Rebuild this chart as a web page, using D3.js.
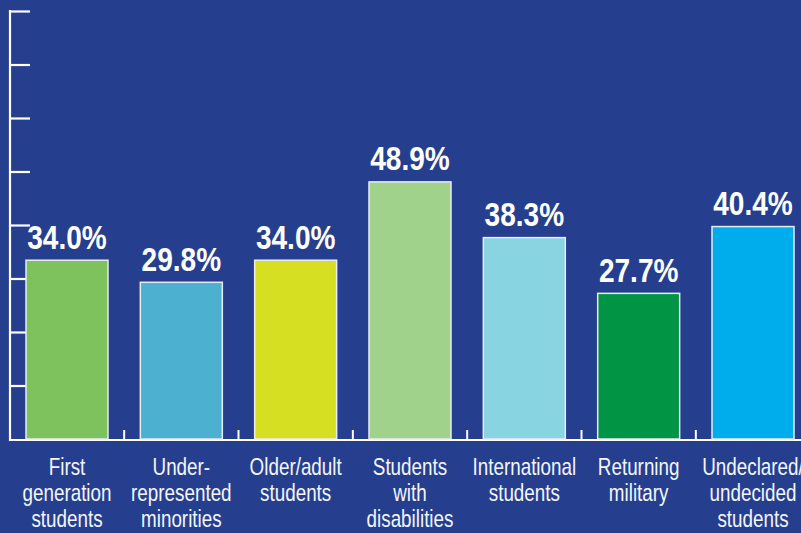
<!DOCTYPE html>
<html>
<head>
<meta charset="utf-8">
<script src="https://cdn.jsdelivr.net/npm/d3@7"></script>
<style>
  html, body { margin: 0; padding: 0; background: #253f8e; }
  svg { display: block; }
  .cond { font-family: "Liberation Sans", Arial, sans-serif; }
</style>
</head>
<body>
<svg id="chart" width="801" height="533"></svg>
<script>
// Student groups (multi-line labels) and their percentages
const categories = [
  ["First", "generation", "students"],
  ["Under-", "represented", "minorities"],
  ["Older/adult", "students"],
  ["Students", "with", "disabilities"],
  ["International", "students"],
  ["Returning", "military"],
  ["Undeclared/", "undecided", "students"]
];
const values = [34.0, 29.8, 34.0, 48.9, 38.3, 27.7, 40.4];
const valueLabels = ["34.0%", "29.8%", "34.0%", "48.9%", "38.3%", "27.7%", "40.4%"];
const colors = ["#7dc25c", "#4cb1d1", "#d7df23", "#a0d28b", "#88d4e0", "#009444", "#00adec"];

const W = 801, H = 533;
const baseY = 439, topY = 11, axisX = 10;
const yMax = 81.4;
const tickCount = 8;
// horizontal squeeze that gives the labels a condensed look
const valueSqueeze = 0.85, catSqueeze = 0.785;

const svg = d3.select("#chart");
svg.append("rect").attr("width", W).attr("height", H).attr("fill", "#253f8e");

const keys = categories.map(c => c.join(" "));
const x = d3.scaleBand()
  .domain(keys)
  .range([axisX, 810])
  .paddingInner(0.283)
  .paddingOuter(0.14);

const y = d3.scaleLinear().domain([0, yMax]).range([baseY, topY]);

// Left axis with evenly spaced ticks, no labels
const yAxis = d3.axisRight(y)
  .tickValues(d3.range(1, tickCount + 1).map(i => yMax * i / tickCount))
  .tickSize(20)
  .tickFormat("");
const gy = svg.append("g").attr("transform", `translate(${axisX},0)`).call(yAxis);
gy.select(".domain").remove();
gy.selectAll(".tick line").attr("stroke", "#ffffff").attr("stroke-width", 2.2);
svg.append("line")
  .attr("x1", axisX).attr("x2", axisX)
  .attr("y1", topY - 1).attr("y2", baseY + 2)
  .attr("stroke", "#ffffff").attr("stroke-width", 2.2);

// Baseline with small ticks between bars
svg.append("line")
  .attr("x1", axisX - 1).attr("x2", W)
  .attr("y1", baseY + 1).attr("y2", baseY + 1)
  .attr("stroke", "#ffffff").attr("stroke-width", 2.2);
const gap = x.step() * x.paddingInner();
svg.append("g").selectAll("line")
  .data(keys.slice(1))
  .join("line")
  .attr("x1", d => x(d) - gap / 2).attr("x2", d => x(d) - gap / 2)
  .attr("y1", baseY - 9).attr("y2", baseY + 1)
  .attr("stroke", "#ffffff").attr("stroke-width", 2);

// Bars
svg.append("g").selectAll("rect")
  .data(values)
  .join("rect")
  .attr("x", (d, i) => x(keys[i]))
  .attr("y", d => y(d))
  .attr("width", x.bandwidth())
  .attr("height", d => baseY - y(d))
  .attr("fill", (d, i) => colors[i])
  .attr("stroke", "#e8ecf4")
  .attr("stroke-width", 1.5);

// Value labels above the bars
svg.append("g").selectAll("text")
  .data(values)
  .join("text")
  .attr("class", "cond")
  .attr("transform", (d, i) =>
    `translate(${x(keys[i]) + x.bandwidth() / 2},${y(d) - 11.5}) scale(${valueSqueeze},1)`)
  .attr("text-anchor", "middle")
  .attr("fill", "#ffffff")
  .attr("font-size", 33)
  .attr("font-weight", "bold")
  .text((d, i) => valueLabels[i]);

// Category labels beneath the baseline
const cat = svg.append("g").selectAll("text")
  .data(categories)
  .join("text")
  .attr("class", "cond")
  .attr("text-anchor", "middle")
  .attr("fill", "#f4f6fb")
  .attr("font-size", 24)
  .attr("transform", (d, i) =>
    `translate(${x(keys[i]) + x.bandwidth() / 2},475) scale(${catSqueeze},1)`);
cat.selectAll("tspan")
  .data(d => d)
  .join("tspan")
  .attr("x", 0)
  .attr("y", (d, i) => i * 26)
  .text(d => d);
</script>
</body>
</html>
